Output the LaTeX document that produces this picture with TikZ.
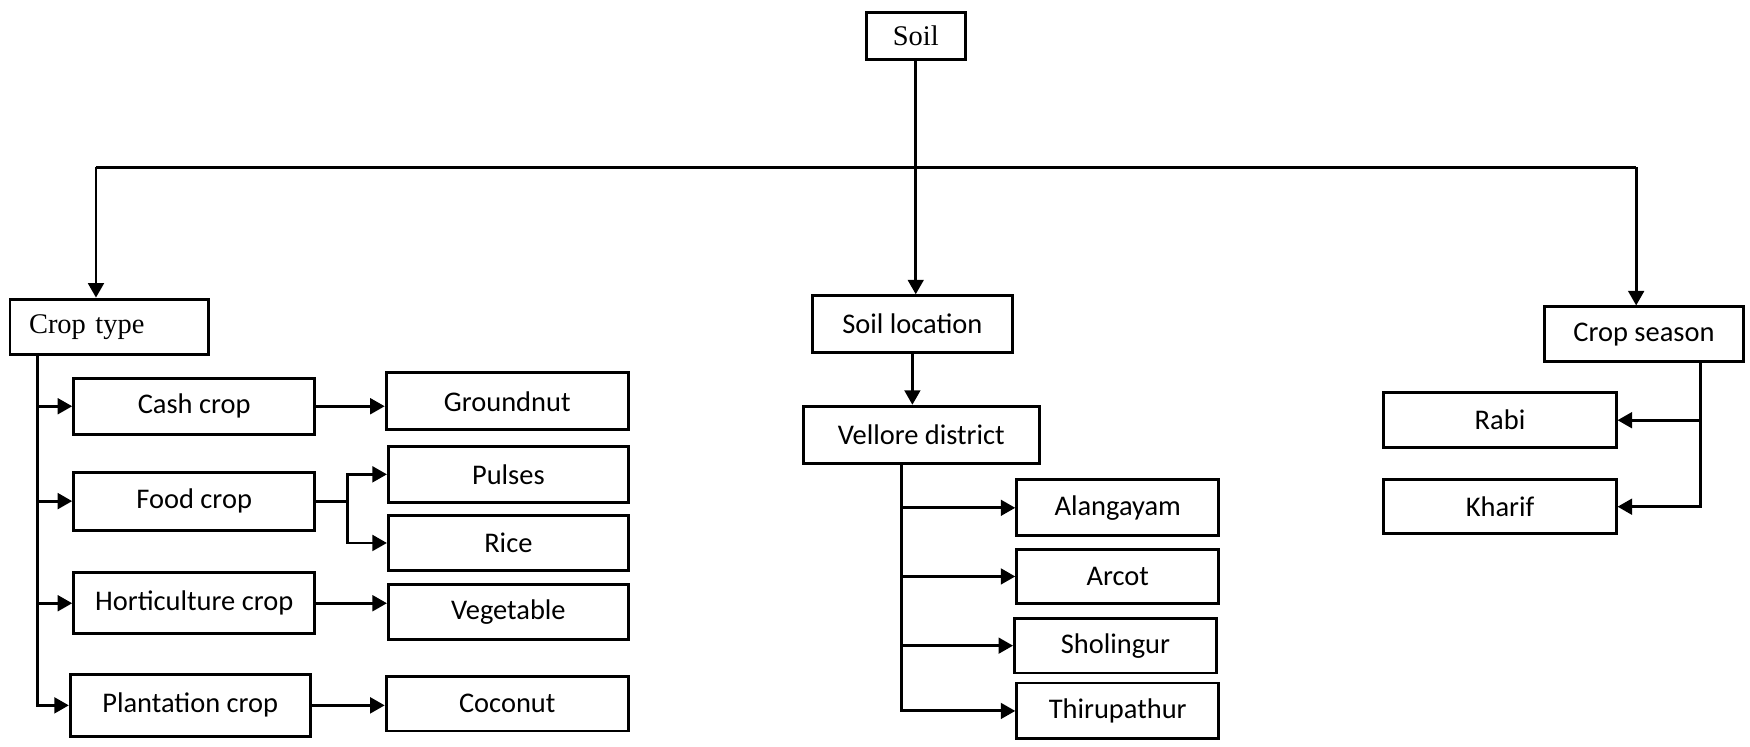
\documentclass[tikz,border=0pt]{standalone}
\usepackage{fontspec}
\setmainfont{Carlito}
\newfontfamily\timesfont{Liberation Serif}
\usetikzlibrary{arrows.meta}

\begin{document}
\begin{tikzpicture}
[x=1pt,y=-1pt,
 boxDecorate/.style={draw,line width=2.6pt,inner sep=0pt,align=center,%
   font=\fontsize{25.5}{30}\selectfont},%
 lineDecorate/.style={line width=2.6pt},%
 arrowDecorate/.style={lineDecorate,-{Triangle[length=13pt,width=14pt]}}]
\useasboundingbox (0,0) rectangle (1568,669);
%%
%% top level
\node (soil) at (820.5,32) [boxDecorate,minimum width=89pt,minimum height=42pt,
  font=\fontsize{25.5}{30}\selectfont\timesfont] {Soil};
\node (croptype) at (98,293) [boxDecorate,minimum height=50pt,text width=144pt,
  inner xsep=17pt,align=left,font=\fontsize{25.5}{30}\selectfont\timesfont] {Crop type};
%% boxes
\foreach \nodename/\x/\y/\w/\h/\txt in {
  soilloc/817.5/290.5/179/51/Soil location, cropseason/1473/299.5/178/49/Crop season,
  cash/174/364/216/50/Cash crop, food/174/449/216/52/Food crop,
  horti/174/540.5/216/55/Horticulture crop, plant/170.5/632/215/56/Plantation crop,
  groundnut/454.5/359.5/217/51/Groundnut, pulses/455.5/425/215/50/Pulses,
  rice/455.5/486.5/215/49/Rice, veg/455.5/548.5/215/49/Vegetable,
  coconut/454.5/630.5/217/49/Coconut,
  vellore/825.5/389.5/211/51/Vellore district,
  alang/1001.5/455/181/50/Alangayam, arcot/1001.5/516.5/181/49/Arcot,
  sholin/999.5/578.5/181/49/Sholingur, thiru/1001.5/637/181/50/Thirupathur,
  rabi/1344/376.5/208/49/Rabi, kharif/1344/454/208/48/Kharif}
{
  \node (\nodename) at (\x,\y) [boxDecorate,minimum width=\w pt,minimum height=\h pt] {\txt};
}
%% junction points
\coordinate (barL) at (86,150);
\coordinate (barR) at (1466,150);
\coordinate (ctTrunk) at (34,318);
\coordinate (vdTrunk) at (808,415);
\coordinate (csTrunk) at (1524,324.5);
%% top connectors
\draw[lineDecorate] (barL) -- (barR);
\draw[arrowDecorate] (soil.south) -- (soil.south |- soilloc.north);
\draw[arrowDecorate] (barL) -- (barL |- croptype.north);
\draw[arrowDecorate] (barR) -- (barR |- cropseason.north);
%% crop type
\foreach \child in {cash, food, horti, plant}
{
  \draw[arrowDecorate] (ctTrunk) |- (\child.west);
}
\draw[arrowDecorate] (cash.east) -- (cash.east -| groundnut.west);
\draw[lineDecorate] (food.east) -- ++(28,0) coordinate (foodFork);
\draw[arrowDecorate] (foodFork) |- (pulses.west);
\draw[arrowDecorate] (foodFork) |- (rice.west);
\draw[arrowDecorate] (horti.east) -- (horti.east -| veg.west);
\draw[arrowDecorate] (plant.east) -- (plant.east -| coconut.west);
%% soil location
\draw[arrowDecorate] (soilloc.south) -- (soilloc.south |- vellore.north);
\foreach \child in {alang, arcot, sholin, thiru}
{
  \draw[arrowDecorate] (vdTrunk) |- (\child.west);
}
%% crop season
\foreach \child in {rabi, kharif}
{
  \draw[arrowDecorate] (csTrunk) |- (\child.east);
}
\end{tikzpicture}
\end{document}
